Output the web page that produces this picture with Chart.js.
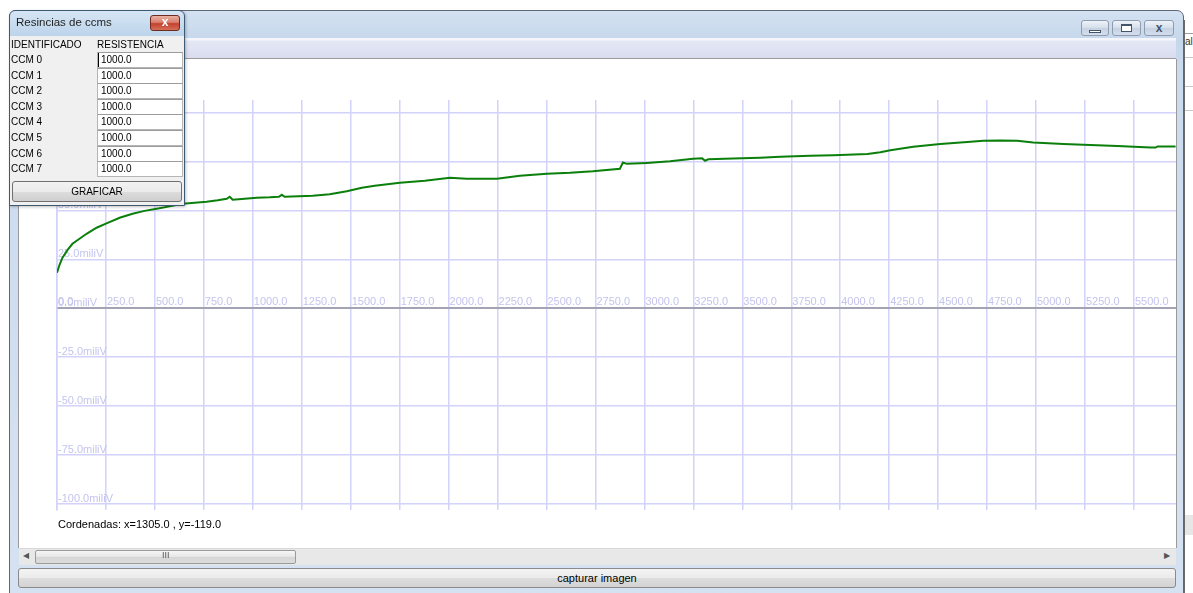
<!DOCTYPE html>
<html>
<head>
<meta charset="utf-8">
<title>capturar imagen</title>
<script src="https://cdn.jsdelivr.net/npm/chart.js@4.4.1/dist/chart.umd.min.js"></script>
<style>
  html, body { margin: 0; padding: 0; width: 1193px; height: 593px; overflow: hidden; background: #fff;
    font-family: "Liberation Sans", Arial, sans-serif; font-size: 11px; color: #000; }
  .abs { position: absolute; box-sizing: border-box; }
  /* main window frame */
  #win { left: 9px; top: 10px; width: 1175px; height: 600px; border: 1px solid #5a6878; border-radius: 7px 7px 0 0;
    background: linear-gradient(#d3e1f1, #c6d7ec 30px, #cbdbee 60px, #d5e2f1); }
  .capbtn { top: 10px; height: 16px; border: 1px solid #8e9cae; border-radius: 3px;
    background: linear-gradient(#eef3f9, #d4deea 50%, #c5d2e2 51%, #d3dded); }
  #menubar { left: 18px; top: 38px; width: 1158px; height: 21px;
    background: linear-gradient(#f4f6fb, #f4f6fb 2px, #e4e8f5 3px, #d8dcee); border-bottom: 1px solid #9a9a9a; }
  #panel { left: 18px; top: 59px; width: 1159px; height: 489px; background: #fff;
    border-left: 1px solid #9a9a9a; border-right: 1px solid #9a9a9a; }
  #chartBox { left: 20px; top: 60px; width: 1156px; height: 485px; }
  #coords { left: 58px; top: 518px; }
  #scroll { left: 19px; top: 548px; width: 1157px; height: 17px; background: #e8e8e8; border-top: 1px solid #d8d8d8; }
  #thumb { left: 35px; top: 550px; width: 261px; height: 14px; border: 1px solid #9a9a9a; border-radius: 2px;
    background: linear-gradient(#f6f6f6, #e6e6e6 50%, #d6d6d6 51%, #dcdcdc); }
  #capture { left: 18px; top: 568px; width: 1158px; height: 20px; border: 1px solid #8a8a8a; border-radius: 3px;
    background: linear-gradient(#f3f3f3, #ebebeb 50%, #dddddd 51%, #d3d3d3); text-align: center; line-height: 18px; }
  /* other window edge on the right */
  #side { left: 1184px; top: 20px; width: 9px; height: 573px; background: #fff; border-left: 1px solid #6b6b6b; }
  /* resistance dialog */
  #dlg { left: 9px; top: 10px; width: 176px; height: 196px; border: 1px solid #3d5a73; border-radius: 6px 6px 0 0;
    background: linear-gradient(#d6e5f4, #bcd3ea 26px); box-shadow: 1px 1px 3px rgba(0,0,0,0.25); }
  #dlgTitle { left: 16px; top: 16px; font-size: 11.5px; color: #1e1e1e; }
  #dlgClose { left: 150px; top: 15px; width: 30px; height: 16px; border: 1px solid #6e2b22; border-radius: 3px;
    background: linear-gradient(#eab1a4, #d9806f 45%, #c4412f 55%, #d6705a); color: #fff; font-weight: bold;
    text-align: center; line-height: 13px; font-size: 12px; }
  #dlgBody { left: 10px; top: 36px; width: 174px; height: 169px; background: #f0f0f0; }
  .lbl { font-size: 10px; }
  .box { left: 97px; width: 86px; height: 16px; background: #fff; border: 1px solid #b5b5b5; border-top-color: #9c9c9c;
    padding-left: 3px; line-height: 14px; font-size: 10px; }
  #graficar { left: 12px; top: 181px; width: 170px; height: 21px; border: 1px solid #707070; border-radius: 3px;
    background: linear-gradient(#f2f2f2, #ebebeb 50%, #dddddd 51%, #cfcfcf); text-align: center; line-height: 19px; font-size: 10px; }
</style>
</head>
<body>
<div id="win" class="abs"></div>
<div class="abs capbtn" style="left:1081px;top:20px;width:28px;"></div>
<div class="abs" style="left:1089px;top:30px;width:12px;height:3px;border:1px solid #44556a;background:#fff;"></div>
<div class="abs capbtn" style="left:1112px;top:20px;width:29px;"></div>
<div class="abs" style="left:1121px;top:24px;width:11px;height:8px;border:1px solid #44556a;border-top-width:2px;background:#fff;"></div>
<div class="abs capbtn" style="left:1144px;top:20px;width:30px;"></div>
<div class="abs" style="left:1152px;top:21px;width:14px;text-align:center;color:#44556a;font-weight:bold;font-size:12px;">x</div>
<div id="side" class="abs"></div>
<div class="abs" style="left:1185px;top:33px;width:8px;border-top:1px solid #a0a0a0;"></div>
<div class="abs" style="left:1185px;top:36px;font-size:10px;color:#333;">al</div>
<div class="abs" style="left:1185px;top:57px;width:8px;border-top:1px solid #c8c8c8;"></div>
<div class="abs" style="left:1185px;top:86px;width:8px;border-top:1px solid #c8c8c8;"></div>
<div class="abs" style="left:1185px;top:110px;width:8px;border-top:1px solid #c8c8c8;"></div>
<div class="abs" style="left:1185px;top:515px;width:8px;height:20px;background:#e6e6e6;"></div>

<div id="menubar" class="abs"></div>
<div id="panel" class="abs"></div>
<div id="chartBox" class="abs"><canvas id="c" width="1156" height="485"></canvas></div>
<div id="coords" class="abs">Cordenadas: x=1305.0 , y=-119.0</div>
<div id="scroll" class="abs"></div>
<div class="abs" style="left:23px;top:551px;font-size:8px;color:#555;">&#9664;</div>
<div id="thumb" class="abs"></div>
<div class="abs" style="left:162px;top:550px;font-size:9px;color:#555;letter-spacing:0px;">III</div>
<div class="abs" style="left:1164px;top:551px;font-size:8px;color:#555;">&#9654;</div>
<div id="capture" class="abs">capturar imagen</div>

<div id="dlg" class="abs"></div>
<div id="dlgTitle" class="abs">Resincias de ccms</div>
<div id="dlgClose" class="abs">x</div>
<div id="dlgBody" class="abs"></div>
<div class="abs lbl" style="left:11px;top:39px;">IDENTIFICADO</div>
<div class="abs lbl" style="left:97px;top:39px;">RESISTENCIA</div>
<div id="rows"></div>
<div id="graficar" class="abs">GRAFICAR</div>

<script>
// Probe identifiers and their resistance values
const ccmNames = ["CCM 0", "CCM 1", "CCM 2", "CCM 3", "CCM 4", "CCM 5", "CCM 6", "CCM 7"];
const ccmResistance = ["1000.0", "1000.0", "1000.0", "1000.0", "1000.0", "1000.0", "1000.0", "1000.0"];

// Recorded signal: sample position and voltage in millivolts
const sampleX = [0, 13, 28, 54, 79, 115, 151, 202, 253, 320, 386, 447, 509, 575, 642, 703, 764, 821, 867, 882,
  897, 959, 1020, 1086, 1133, 1148, 1163, 1306, 1393, 1480, 1557, 1623, 1751, 1879, 2007, 2093, 2247, 2364, 2502, 2620,
  2737, 2875, 2890, 2911, 3013, 3131, 3249, 3295, 3310, 3326, 3453, 3591, 3694, 3847, 3965, 4139, 4205, 4256, 4373, 4511,
  4649, 4731, 4818, 4904, 4986, 5140, 5242, 5416, 5585, 5611, 5621, 5713];
const milliVolts = [18.1, 22.2, 25.8, 29.8, 32.9, 35.5, 38.0, 41.1, 43.3, 46.2, 48.2, 49.7, 50.8, 52.0, 53.3, 53.8, 54.3, 55.1, 55.9, 56.9,
  55.4, 55.9, 56.4, 56.6, 56.9, 57.9, 56.9, 57.4, 58.2, 59.7, 61.5, 62.5, 64.0, 65.1, 66.6, 66.1, 66.1, 67.6, 68.6, 69.1,
  69.9, 71.2, 74.4, 73.7, 74.2, 75.0, 76.3, 76.5, 75.3, 76.0, 76.4, 76.8, 77.3, 77.8, 78.1, 78.7, 79.6, 80.7, 82.4, 83.8,
  84.9, 85.5, 85.6, 85.5, 84.6, 83.9, 83.4, 82.8, 82.0, 82.0, 82.6, 82.6];

// Grid tick positions
const xTicks = [0, 250, 500, 750, 1000, 1250, 1500, 1750, 2000, 2250, 2500, 2750, 3000, 3250, 3500, 3750, 4000,
  4250, 4500, 4750, 5000, 5250, 5500];
const yTicks = [-100, -75, -50, -25, 0, 25, 50, 75, 100];
const xRange = [0, 5715];
const yRange = [-103, 106.3];

// dialog rows
const rowsEl = document.getElementById('rows');
ccmNames.forEach((name, i) => {
  const top = 52 + Math.round(i * 15.6);
  const l = document.createElement('div');
  l.className = 'abs lbl';
  l.style.left = '11px'; l.style.top = (top + 2) + 'px';
  l.textContent = name;
  rowsEl.appendChild(l);
  const b = document.createElement('div');
  b.className = 'abs box';
  b.style.top = top + 'px';
  b.textContent = ccmResistance[i];
  if (i === 0) b.style.boxShadow = 'inset 4px 0 0 -3px #000';
  rowsEl.appendChild(b);
});

const gridColor = '#d2d2fa';
const labelColor = '#c4c4ee';
const tickFont = { family: '"Liberation Sans", Arial, sans-serif', size: 11 };

new Chart(document.getElementById('c'), {
  type: 'line',
  data: {
    datasets: [{
      data: sampleX.map((x, i) => ({ x: x, y: milliVolts[i] })),
      borderColor: '#0b7f0b',
      borderWidth: 2,
      pointRadius: 0,
      tension: 0,
      fill: false
    }]
  },
  options: {
    responsive: false,
    animation: false,
    layout: { padding: { left: 35, right: 0, top: 40, bottom: 35 } },
    plugins: { legend: { display: false }, tooltip: { enabled: false } },
    scales: {
      x: {
        type: 'linear',
        min: xRange[0], max: xRange[1],
        position: { y: 0 },
        afterBuildTicks: s => { s.ticks = xTicks.map(v => ({ value: v })); },
        grid: { color: gridColor, lineWidth: 1.5, drawTicks: false },
        border: { color: '#a3a3b3', width: 2 },
        ticks: {
          mirror: true, align: 'start', padding: 0, labelOffset: 1,
          color: labelColor, font: tickFont, maxRotation: 0, autoSkip: false,
          callback: v => Number(v).toFixed(1)
        }
      },
      y: {
        type: 'linear',
        min: yRange[0], max: yRange[1],
        position: 'left',
        afterBuildTicks: s => { s.ticks = yTicks.map(v => ({ value: v })); },
        grid: { color: gridColor, lineWidth: 1.5, drawTicks: false },
        border: { color: gridColor, width: 1.5 },
        ticks: {
          mirror: true, padding: 1, labelOffset: -5,
          color: labelColor, font: tickFont, autoSkip: false,
          callback: v => Number(v).toFixed(1) + 'miliV'
        }
      }
    }
  }
});
</script>
</body>
</html>
